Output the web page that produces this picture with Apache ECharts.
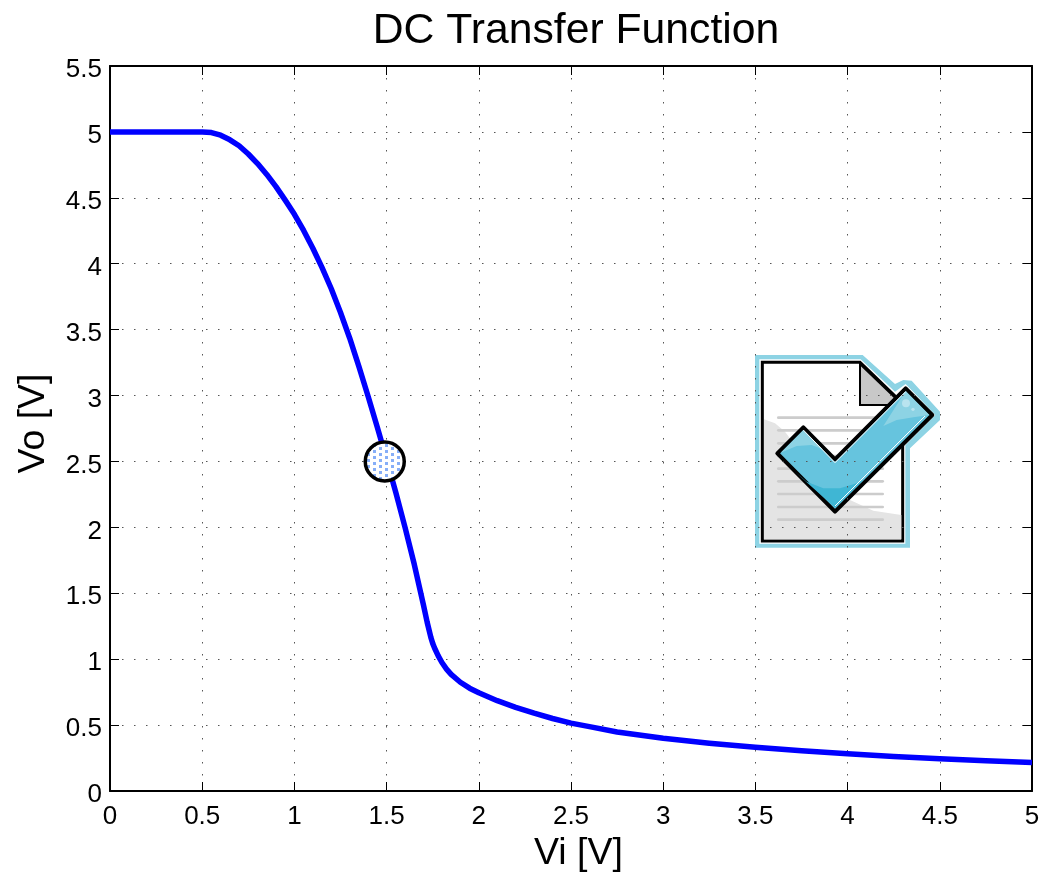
<!DOCTYPE html>
<html><head><meta charset="utf-8">
<style>html,body{margin:0;padding:0;background:#fff}#c{width:1042px;height:874px}</style>
<script src="https://cdn.jsdelivr.net/npm/echarts@6/dist/echarts.min.js"></script>
</head><body><div id="c"></div>
<script>
const titleText = 'DC Transfer Function';
const xName = 'Vi [V]';
const yName = 'Vo [V]';
const vi = [0,0.5,0.55,0.6,0.65,0.7,0.75,0.8,0.85,0.9,0.95,1,1.05,1.1,1.15,1.2,1.25,1.3,1.35,1.4,1.45,1.5,1.55,1.6,1.65,1.7,1.72,1.74,1.75,1.76,1.78,1.8,1.825,1.85,1.9,1.95,2,2.1,2.2,2.3,2.4,2.5,2.6,2.75,3,3.25,3.5,3.75,4,4.25,4.5,4.75,5];
const vo = [5,5,4.995,4.975,4.94,4.895,4.8325,4.76,4.6775,4.585,4.4825,4.375,4.2525,4.1175,3.97,3.81,3.63,3.435,3.22,2.9925,2.7575,2.515,2.265,2,1.72,1.41,1.28,1.165,1.12,1.085,1.025,0.975,0.925,0.885,0.825,0.78,0.745,0.685,0.635,0.59,0.55,0.515,0.488,0.448,0.4,0.363,0.332,0.305,0.283,0.262,0.244,0.229,0.216];
const operatingPoint = [1.49, 2.5];
const font = '"Liberation Sans", Arial, sans-serif';
const grid = {left:110,top:66,width:922,height:725,show:false,outerBoundsMode:'none',containLabel:false};
const dot = {show:true,lineStyle:{color:'#555',width:1,type:[1.5,10.5]}};
const line = {show:true,onZero:false,lineStyle:{color:'#000',width:2}};
const tick = {show:true,inside:true,length:9,lineStyle:{color:'#000',width:1}};
const fmt = v => String(v);
const chart = echarts.init(document.getElementById('c'),null,{renderer:'canvas'});
const dots = document.createElement('canvas');
dots.width = 12; dots.height = 6;
const dc = dots.getContext('2d');
dc.fillStyle = '#fff'; dc.fillRect(0,0,12,6);
dc.fillStyle = '#86aef8'; dc.fillRect(1,0,3,3); dc.fillRect(7,3,3,3);
const P = (pts,style) => ({type:'polygon',shape:{points:pts},style});
const docLines = [233,271,310,348,386,424,462,501,539].map(y=>({type:'line',shape:{x1:115,y1:y,x2:428,y2:y},style:{stroke:'#ccc',lineWidth:8,lineCap:'round'}}));
const check = [[190,262],[285,358],[497,145],[577,225],[285,515],[112,340]];
const icon = {type:'group',x:740,y:340,scaleX:1/3,scaleY:1/3,z:50,children:[
 P([[45,45],[368,45],[465,132],[490,120],[515,122],[600,215],[600,240],[510,325],[510,623],[45,623]],{fill:'#8dd3e4'}),
 P([[58,58],[362,58],[465,155],[497,132],[586,225],[496,316],[496,611],[58,611]],{fill:'#fff'}),
 P([[67,67],[360,67],[488,190],[488,603],[67,603]],{fill:'#fff',stroke:'#000',lineWidth:9,lineJoin:'miter'}),
 P([[72,238],[105,250],[135,275],[165,315],[200,360],[270,430],[330,480],[400,512],[484,525],[484,598],[72,598]],{fill:'#e4e4e4'}),
 ...docLines,
 P([[360,72],[360,195],[470,195],[470,178]],{fill:'#c8c8c8',stroke:'#000',lineWidth:6}),
 P(check,{fill:'#66c4de',stroke:'#000',lineWidth:12,lineJoin:'round'}),
 P([[165,395],[200,425],[250,445],[300,445],[350,430],[370,420],[285,503]],{fill:'#3fb6d4'}),
 P([[497,153],[568,225],[520,232],[470,240],[430,258]],{fill:'#8dd3e4'}),
 P([[122,338],[190,270],[248,328],[215,315],[170,318]],{fill:'#8dd3e4'}),
 {type:'polyline',shape:{points:[[190,270],[285,368],[497,155]]},style:{stroke:'#fff',lineWidth:3,fill:'none'}},
 {type:'polyline',shape:{points:[[285,498],[555,228]]},style:{stroke:'#fff',lineWidth:3,fill:'none'}},
 {type:'circle',shape:{cx:498,cy:190,r:12},style:{fill:'#b9e4ef'}},
 {type:'circle',shape:{cx:519,cy:208,r:5},style:{fill:'#b9e4ef'}}
]};
chart.setOption({
 animation:false,
 title:{text:titleText,left:571,top:5,textAlign:'center',textStyle:{fontFamily:font,fontSize:42.7,fontWeight:'normal',color:'#000'}},
 grid,
 xAxis:[
  {type:'value',min:0,max:5,interval:0.5,position:'bottom',name:xName,nameLocation:'middle',nameGap:44,nameTextStyle:{fontFamily:font,fontSize:37.5,color:'#000',padding:[0,0,0,15]},axisLine:line,axisTick:tick,splitLine:dot,axisLabel:{fontFamily:font,fontSize:26,color:'#000',margin:13,formatter:fmt}},
  {type:'value',min:0,max:5,interval:0.5,position:'top',axisLine:line,axisTick:tick,splitLine:{show:false},axisLabel:{show:false}}
 ],
 yAxis:[
  {type:'value',min:0,max:5.5,interval:0.5,position:'left',name:yName,nameLocation:'middle',nameGap:57,nameTextStyle:{fontFamily:font,fontSize:37.5,color:'#000',padding:[0,0,0,10]},axisLine:line,axisTick:tick,splitLine:dot,axisLabel:{color:'#000',margin:8,formatter:v=>'{a|'+v+'}',rich:{a:{fontFamily:font,fontSize:26,color:'#000',padding:[8,0,0,0]}}}},
  {type:'value',min:0,max:5.5,interval:0.5,position:'right',axisLine:line,axisTick:tick,splitLine:{show:false},axisLabel:{show:false}}
 ],
 graphic:{elements:[icon]},
 series:[
  {type:'line',data:vi.map((x,i)=>[x,vo[i]]),showSymbol:false,smooth:false,lineStyle:{color:'#0000ff',width:5.5,join:'round'},z:5},
  {type:'custom',data:[operatingPoint],z:6,clip:false,
   encode:{x:0,y:1},
   renderItem:(params,api)=>{
    const c = api.coord([api.value(0),api.value(1)]);
    return {type:'circle',shape:{cx:c[0],cy:c[1],r:19.5},style:{fill:{image:dots,repeat:'repeat'},stroke:'#000',lineWidth:3.5}};
   }}
 ]
});
</script></body></html>
